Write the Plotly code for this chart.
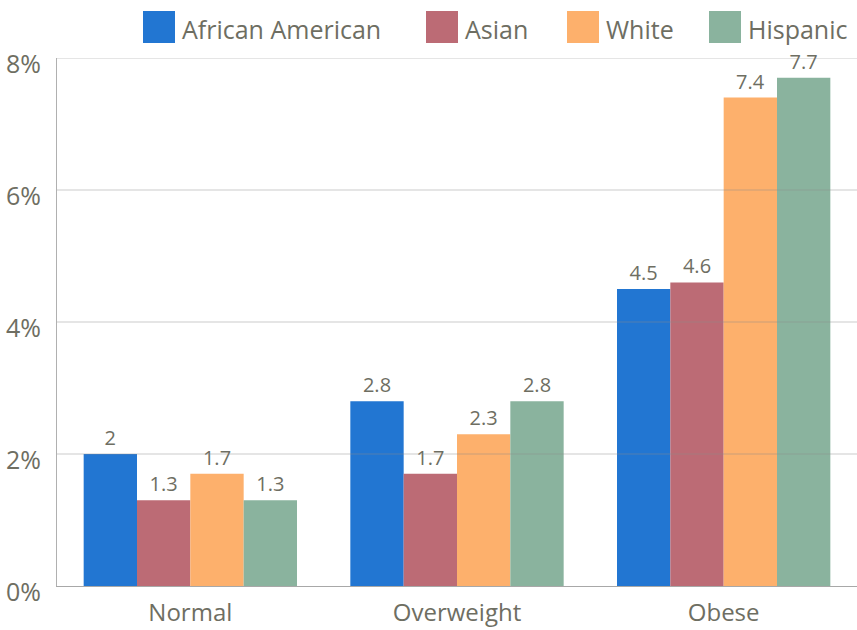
import plotly.graph_objects as go

# Share of each group (percent) by weight category
categories = ["Normal", "Overweight", "Obese"]
groups = ["African American", "Asian", "White", "Hispanic"]
african_american = [2.0, 2.8, 4.5]
asian = [1.3, 1.7, 4.6]
white = [1.7, 2.3, 7.4]
hispanic = [1.3, 2.8, 7.7]
y_ticks = [0, 2, 4, 6, 8]
y_tick_labels = [f"{t}%" for t in y_ticks]

series = [african_american, asian, white, hispanic]
colors = ["#2276D2", "#BC6B75", "#FDB06C", "#8AB39E"]
text_color = "#6E6E62"
font_family = "Open Sans, Noto Sans, sans-serif"

fig = go.Figure()
for name, vals, col in zip(groups, series, colors):
    fig.add_trace(go.Bar(
        x=categories, y=vals, name=name,
        marker=dict(color=col, line=dict(width=0)),
        text=[f"{v:g}" for v in vals],
        textposition="outside",
        textfont=dict(size=20, color=text_color, family=font_family),
        cliponaxis=False,
        showlegend=False,
    ))

# Gridlines drawn over the bars
shapes = []
for t in y_ticks[1:]:
    shapes.append(dict(type="line", xref="paper", yref="y", x0=0, x1=1, y0=t, y1=t,
                       line=dict(color="rgba(140,140,140,0.45)", width=1), layer="above"))

# Custom legend row with large swatches
legend_x = [143, 426, 567, 709]
W, H = 857, 630
annotations = []
for name, col, lx in zip(groups, colors, legend_x):
    shapes.append(dict(type="rect", xref="paper", yref="paper",
                       x0=(lx - 57) / 800, x1=(lx + 32 - 57) / 800,
                       y0=(586 - 43) / 528, y1=(586 - 11) / 528,
                       fillcolor=col, line=dict(width=0)))
    annotations.append(dict(xref="paper", yref="paper",
                            x=(lx + 37 - 57) / 800, y=(586 - 29) / 528,
                            xanchor="left", yanchor="middle", showarrow=False,
                            text=name, font=dict(size=25, color=text_color, family=font_family)))

fig.update_layout(
    width=W, height=H,
    margin=dict(l=57, r=0, t=58, b=44),
    plot_bgcolor="white", paper_bgcolor="white",
    barmode="group", bargap=0.2, bargroupgap=0,
    shapes=shapes, annotations=annotations,
    font=dict(family=font_family, color=text_color),
    xaxis=dict(range=[-0.5, 2.5], showgrid=False, showline=True, linecolor="#A8A8A8",
               linewidth=1, ticks="", ticklabelstandoff=5,
               tickfont=dict(size=24, color=text_color)),
    yaxis=dict(range=[0, 8], tickmode="array", tickvals=y_ticks, ticktext=y_tick_labels,
               showgrid=False, showline=True, linecolor="#B0B0B0", linewidth=1,
               zeroline=False, ticks="", ticklabelstandoff=10, ticklabelshift=6,
               tickfont=dict(size=25, color=text_color)),
)

fig.write_html("out.html")
